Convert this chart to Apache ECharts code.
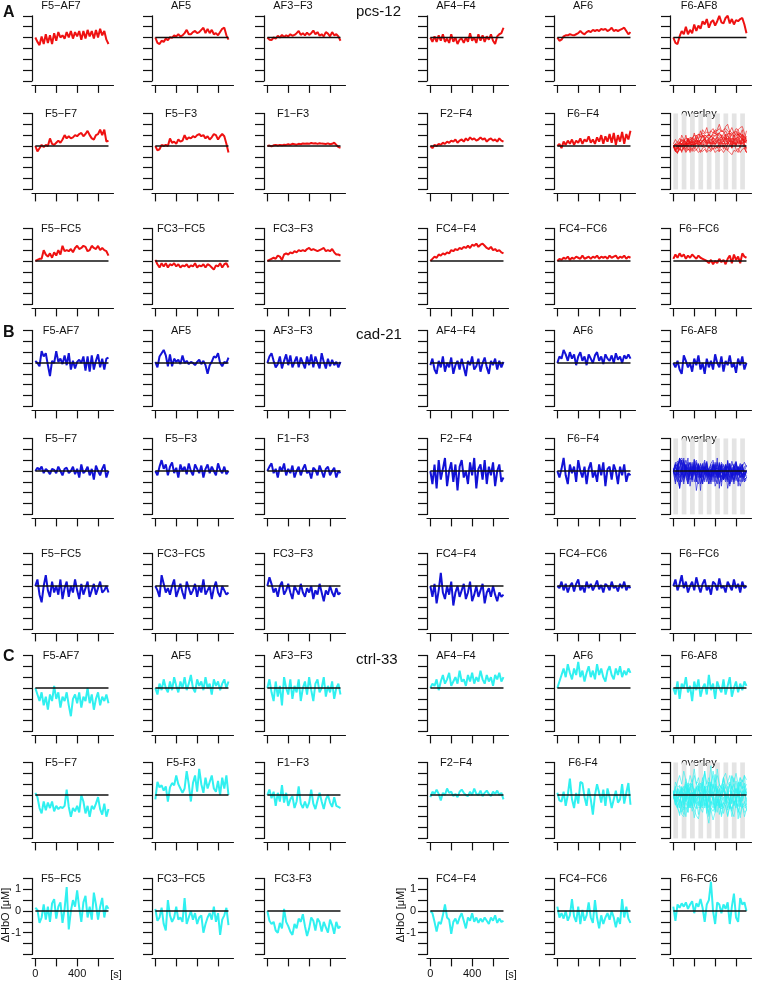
<!DOCTYPE html>
<html>
<head>
<meta charset="utf-8">
<script src="https://cdn.jsdelivr.net/npm/echarts@6/dist/echarts.min.js"></script>
<style>
	html, body { margin: 0; padding: 0; background: #fff; }
	#chart { width: 758px; height: 981px; }
</style>
</head>
<body>
<div id="chart"></div>
<script>
// Sample times [s] shared by every channel trace.
const times = [ 0, 20, 40, 60, 80, 100, 120, 140, 160, 180, 200, 220, 240, 260, 280, 300, 320, 340,
	360, 380, 400, 420, 440, 460, 480, 500, 520, 540, 560, 580, 600, 620, 640, 660, 680, 700 ];
const xTicks = [ 0, 200, 400, 600 ];
const xLabels = [ 0, 400 ];
const yLabels = [ -1, 0, 1 ];
// Stimulation blocks shaded in the overlay panels [s].
const blockStarts = [ 0, 80, 160, 240, 320, 400, 480, 560, 640 ];
const blockEnds = [ 45, 125, 205, 285, 365, 445, 525, 605, 685 ];

// Channel names, panel order row by row (the 12th panel is the overlay).
const pcsNames = [ 'F5\u2212AF7', 'AF5', 'AF3\u2212F3', 'AF4\u2212F4', 'AF6', 'F6-AF8',
	'F5\u2212F7', 'F5\u2212F3', 'F1\u2212F3', 'F2\u2212F4', 'F6\u2212F4', 'overlay',
	'F5\u2212FC5', 'FC3\u2212FC5', 'FC3\u2212F3', 'FC4\u2212F4', 'FC4\u2212FC6', 'F6\u2212FC6' ];
const cadNames = [ 'F5-AF7', 'AF5', 'AF3\u2212F3', 'AF4\u2212F4', 'AF6', 'F6-AF8',
	'F5\u2212F7', 'F5\u2212F3', 'F1\u2212F3', 'F2\u2212F4', 'F6\u2212F4', 'overlay',
	'F5\u2212FC5', 'FC3\u2212FC5', 'FC3\u2212F3', 'FC4\u2212F4', 'FC4\u2212FC6', 'F6\u2212FC6' ];
const ctrlNames = [ 'F5-AF7', 'AF5', 'AF3\u2212F3', 'AF4\u2212F4', 'AF6', 'F6-AF8',
	'F5\u2212F7', 'F5-F3', 'F1\u2212F3', 'F2\u2212F4', 'F6-F4', 'overlay',
	'F5\u2212FC5', 'FC3\u2212FC5', 'FC3-F3', 'FC4\u2212F4', 'FC4\u2212FC6', 'F6-FC6' ];

// A: pcs-12, delta HbO [uM]
const pcs_F5_AF7 = [ 0, -0.2, -0.35, 0.05, -0.3, 0.15, -0.25, 0.1, -0.3, 0.2, -0.15, 0.25, 0, 0.1, -0.05, 0.25, 0, 0.3, -0.05, 0.25, 0.05, 0.3, -0.1, 0.3, -0.05, 0.35, 0.05, 0.3, -0.05, 0.35, 0, 0.4, 0.1, 0.3, -0.1, -0.3 ];
const pcs_AF5 = [ 0, -0.25, -0.3, -0.15, -0.2, -0.05, -0.12, 0.02, -0.02, 0.1, 0.05, 0.15, 0.05, 0.1, 0.2, 0.35, 0.15, 0.15, 0.25, 0.3, 0.2, 0.25, 0.35, 0.45, 0.2, 0.4, 0.2, 0.35, 0.15, 0.2, 0.1, 0.25, 0.4, 0.45, 0.1, -0.1 ];
const pcs_AF3_F3 = [ 0, -0.1, -0.12, 0, -0.05, 0.08, 0, 0.12, 0.02, 0.1, 0.05, 0.15, 0.08, 0.12, 0.2, 0.3, 0.12, 0.2, 0.1, 0.22, 0.12, 0.2, 0.32, 0.15, 0.25, 0.08, 0.15, 0.05, 0.25, 0.18, 0.05, 0.25, 0.1, 0.15, 0.05, -0.15 ];
const pcs_AF4_F4 = [ 0, -0.2, 0.05, -0.2, 0.1, -0.15, 0.15, -0.2, -0.05, -0.25, 0.15, -0.2, 0, -0.3, -0.1, -0.05, -0.25, 0, -0.2, 0.2, -0.15, 0, -0.25, 0.15, -0.15, 0.1, -0.2, 0.05, -0.1, 0.15, -0.15, -0.3, 0.05, 0.15, 0.2, 0.45 ];
const pcs_AF6 = [ 0, -0.15, -0.1, 0.05, 0.1, 0.1, 0.15, 0.12, 0.1, 0.15, 0.2, 0.3, 0.2, 0.15, 0.25, 0.3, 0.25, 0.35, 0.3, 0.35, 0.3, 0.4, 0.35, 0.4, 0.3, 0.35, 0.45, 0.3, 0.35, 0.3, 0.35, 0.4, 0.45, 0.3, 0.15, 0.25 ];
const pcs_F6_AF8 = [ 0, -0.25, -0.3, 0.05, 0.3, 0.15, 0.5, 0.15, 0.35, 0.2, 0.6, 0.3, 0.55, 0.4, 0.75, 0.6, 0.85, 0.45, 0.7, 0.8, 0.55, 0.75, 1.0, 0.7, 0.65, 0.9, 1.0, 0.65, 0.85, 0.6, 0.8, 0.75, 0.85, 0.9, 0.6, 0.2 ];
const pcs_F5_F7 = [ 0, -0.25, -0.1, 0.05, -0.05, 0.05, 0, 0.35, 0.1, 0.05, 0.15, 0.25, 0.15, 0.3, 0.5, 0.35, 0.45, 0.35, 0.4, 0.5, 0.45, 0.55, 0.6, 0.45, 0.55, 0.7, 0.5, 0.35, 0.3, 0.5, 0.55, 0.75, 0.5, 0.75, 0.2, 0.25 ];
const pcs_F5_F3 = [ 0, -0.2, -0.15, 0.05, 0, 0.05, 0, 0.35, 0.15, 0.2, 0.1, 0.3, 0.2, 0.25, 0.5, 0.3, 0.4, 0.35, 0.45, 0.4, 0.5, 0.55, 0.45, 0.5, 0.35, 0.45, 0.3, 0.4, 0.55, 0.5, 0.3, 0.45, 0.55, 0.45, 0.1, -0.3 ];
const pcs_F1_F3 = [ 0, 0.02, -0.02, 0.03, 0.05, 0.02, 0.05, 0.03, 0.06, 0.05, 0.08, 0.05, 0.1, 0.08, 0.06, 0.1, 0.08, 0.12, 0.1, 0.12, 0.1, 0.14, 0.12, 0.13, 0.1, 0.13, 0.11, 0.1, 0.09, 0.12, 0.08, 0.1, 0.15, 0.05, -0.05, -0.08 ];
const pcs_F2_F4 = [ 0, -0.1, 0.05, 0, 0.1, 0.05, 0.15, 0.1, 0.2, 0.15, 0.25, 0.2, 0.3, 0.15, 0.25, 0.3, 0.2, 0.35, 0.25, 0.4, 0.3, 0.35, 0.25, 0.3, 0.4, 0.3, 0.35, 0.2, 0.3, 0.35, 0.25, 0.3, 0.2, 0.35, 0.25, 0.2 ];
const pcs_F6_F4 = [ 0, 0.1, -0.1, 0.2, 0.05, 0.25, 0.1, 0.3, 0.05, 0.25, 0.15, 0.35, 0.1, 0.3, 0.2, 0.45, 0.15, 0.3, 0.1, 0.4, 0.2, 0.5, 0.1, 0.45, 0.2, 0.55, 0.15, 0.6, 0.05, 0.5, 0.2, 0.65, 0.1, 0.55, 0.3, 0.7 ];
const pcs_F5_FC5 = [ 0, 0.05, 0.1, 0.1, 0.5, 0.3, 0.2, 0.35, 0.15, 0.4, 0.25, 0.5, 0.3, 0.7, 0.45, 0.5, 0.45, 0.55, 0.4, 0.6, 0.7, 0.55, 0.6, 0.7, 0.65, 0.45, 0.5, 0.7, 0.6, 0.55, 0.7, 0.5, 0.6, 0.5, 0.45, 0.25 ];
const pcs_FC3_FC5 = [ 0.05, -0.15, -0.3, -0.1, -0.25, -0.1, -0.3, -0.15, -0.2, -0.1, -0.25, -0.15, -0.3, -0.2, -0.25, -0.15, -0.3, -0.2, -0.25, -0.1, -0.3, -0.2, -0.25, -0.15, -0.3, -0.15, -0.2, -0.3, -0.4, -0.2, -0.25, -0.1, -0.3, -0.15, -0.1, -0.3 ];
const pcs_FC3_F3 = [ 0, 0.05, 0.1, 0.15, 0.1, 0.25, 0.2, 0.05, 0.3, 0.35, 0.3, 0.4, 0.35, 0.45, 0.4, 0.5, 0.45, 0.5, 0.45, 0.55, 0.6, 0.5, 0.55, 0.5, 0.45, 0.5, 0.55, 0.6, 0.45, 0.5, 0.45, 0.55, 0.4, 0.3, 0.3, 0.25 ];
const pcs_FC4_F4 = [ 0, 0.1, 0.2, 0.15, 0.3, 0.25, 0.35, 0.3, 0.4, 0.35, 0.5, 0.45, 0.55, 0.5, 0.6, 0.55, 0.65, 0.6, 0.7, 0.6, 0.75, 0.7, 0.8, 0.65, 0.75, 0.8, 0.7, 0.6, 0.55, 0.65, 0.5, 0.55, 0.45, 0.5, 0.4, 0.35 ];
const pcs_FC4_FC6 = [ 0, 0.1, 0.05, 0.15, 0.1, 0.2, 0.05, 0.15, 0.1, 0.2, 0.15, 0.1, 0.25, 0.1, 0.15, 0.2, 0.1, 0.2, 0.15, 0.25, 0.1, 0.2, 0.15, 0.2, 0.1, 0.25, 0.15, 0.2, 0.25, 0.1, 0.2, 0.15, 0.25, 0.1, 0.2, 0.15 ];
const pcs_F6_FC6 = [ 0.1, 0.3, 0.15, 0.35, 0.2, 0.3, 0.1, 0.25, 0.15, 0.3, 0.2, 0.1, 0.25, 0.15, 0.1, 0.05, 0, -0.1, 0.05, -0.15, 0, -0.1, 0.1, -0.05, 0.05, -0.15, 0.1, 0.25, -0.1, 0.3, 0.05, 0.2, -0.1, 0.35, 0.2, 0.15 ];

// B: cad-21
const cad_F5_AF7 = [ 0.1, 0, -0.15, 0.55, 0.3, 0.45, -0.1, -0.6, 0.1, 0, 0.55, 0.05, 0.2, -0.05, 0.35, -0.1, 0.45, -0.3, 0.1, -0.25, 0.05, 0.15, 0, 0.3, -0.35, 0.3, -0.4, 0.35, -0.3, 0.1, 0.4, -0.2, 0.2, -0.3, 0.2, 0.25 ];
const cad_AF5 = [ 0.05, -0.2, 0.3, 0.45, 0.6, 0.35, -0.15, 0.4, -0.15, 0.2, 0.05, 0.15, -0.05, 0.35, 0, 0.1, -0.05, 0.05, 0, -0.1, 0.05, 0.15, -0.05, 0.1, -0.1, -0.5, -0.1, 0.05, 0.3, 0.25, 0.45, 0, -0.15, 0.05, 0, 0.25 ];
const cad_AF3_F3 = [ 0, 0.3, 0.45, 0.1, -0.2, -0.05, 0.3, -0.25, 0.1, 0.4, -0.1, 0.35, -0.2, 0.05, 0.3, -0.2, 0.25, 0, -0.25, 0.3, -0.1, 0.4, -0.2, 0.3, 0, -0.25, 0.45, 0.05, -0.25, 0.2, -0.15, 0.15, -0.1, 0.05, -0.2, 0.05 ];
const cad_AF4_F4 = [ -0.1, 0.2, -0.3, -0.5, 0.1, -0.2, 0.3, -0.4, 0, -0.2, 0.25, -0.5, -0.1, 0.1, -0.3, 0.2, -0.2, -0.6, 0.1, -0.1, 0.3, -0.3, -0.15, 0.2, -0.4, 0, 0.25, -0.2, -0.5, 0.1, -0.1, 0.2, -0.3, 0.1, -0.2, 0.05 ];
const cad_AF6 = [ 0, 0.3, 0.2, 0.6, 0.4, 0.1, 0.5, 0.2, 0.4, -0.1, 0.3, 0.5, 0.1, 0.3, -0.1, 0.4, 0.2, 0, 0.35, 0.5, 0.1, 0.3, -0.05, 0.4, 0.2, 0.1, 0.35, 0, 0.45, 0.15, 0.3, 0, 0.35, 0.2, 0.4, 0.2 ];
const cad_F6_AF8 = [ 0, -0.2, 0.1, -0.3, -0.5, 0.35, 0.1, -0.2, 0, -0.4, 0.2, -0.1, 0.35, -0.3, 0, -0.5, 0.2, -0.2, 0.1, -0.3, 0.4, 0, -0.2, 0.3, -0.4, 0.1, -0.1, 0.35, -0.2, 0, -0.45, 0.2, -0.1, 0.3, -0.3, 0 ];
const cad_F5_F7 = [ 0, 0.15, 0.05, 0.2, -0.1, 0.1, 0, -0.15, 0.1, 0.05, -0.1, 0.2, 0, -0.2, 0.1, 0.15, -0.1, 0, 0.2, -0.15, 0.1, -0.3, 0.3, -0.1, 0, 0.2, -0.2, 0.1, -0.4, 0.25, 0, -0.2, 0.1, 0.3, -0.3, 0 ];
const cad_F5_F3 = [ 0, -0.2, 0.2, 0.5, 0.1, 0.3, -0.2, 0.2, 0.4, -0.1, 0.15, -0.3, 0.3, 0, 0.2, -0.15, 0.35, 0, -0.2, 0.3, 0.1, -0.1, 0.25, -0.3, 0.1, 0.3, -0.1, 0.2, 0, -0.2, 0.35, 0.05, -0.1, 0.2, -0.15, 0 ];
const cad_F1_F3 = [ 0, 0.2, 0.35, -0.1, 0.1, -0.3, 0.2, 0, 0.35, -0.2, 0.1, -0.1, 0.25, -0.3, 0, 0.2, -0.2, 0.1, 0.3, -0.1, 0, -0.35, 0.15, 0.05, -0.2, 0.25, 0, -0.3, 0.1, 0.2, -0.2, 0, 0.15, -0.3, 0, -0.1 ];
const cad_F2_F4 = [ 0, -0.6, 0.3, -0.8, 0.5, -0.4, 0.1, 0.6, -0.7, 0, 0.4, -0.5, 0.3, -0.9, 0.2, 0.5, -0.3, 0, -0.6, 0.4, -0.2, 0.6, -0.8, 0.1, 0.3, -0.4, 0.5, -0.6, 0.2, -0.2, 0.4, -0.7, 0, 0.3, -0.5, -0.3 ];
const cad_F6_F4 = [ 0, -0.3, 0.1, 0.6, -0.2, -0.6, 0.3, -0.1, 0.2, -0.5, 0.5, 0, -0.3, 0.2, -0.6, 0.1, 0.4, -0.3, 0, -0.5, 0.3, -0.2, 0.4, -0.7, 0.1, 0.2, -0.4, 0.3, 0, -0.6, 0.2, -0.2, 0.3, -0.5, -0.1, -0.2 ];
const cad_F5_FC5 = [ 0, 0.3, -0.4, -0.75, 0, 0.5, -0.2, -0.5, 0.2, -0.3, 0, -0.4, 0.3, -0.6, -0.1, 0.2, -0.5, 0, -0.3, 0.3, -0.2, -0.6, 0.1, -0.4, -0.1, 0.2, -0.5, -0.2, 0.1, -0.4, -0.1, 0.2, -0.3, -0.2, 0, -0.3 ];
const cad_FC3_FC5 = [ 0, -0.2, -0.5, 0.5, 0.1, -0.3, -0.1, -0.4, 0, 0.3, -0.5, -0.2, 0.1, -0.3, -0.6, 0.2, -0.1, -0.4, -0.2, 0.1, -0.5, 0, -0.3, 0.3, -0.4, -0.2, 0, -0.6, -0.1, 0.2, -0.3, -0.5, 0, -0.2, -0.4, -0.3 ];
const cad_FC3_F3 = [ 0, 0.4, 0.1, -0.3, -0.1, -0.5, 0, 0.2, -0.4, -0.2, 0.1, -0.3, -0.6, 0, -0.2, -0.4, 0.1, -0.3, -0.5, -0.1, -0.3, 0, -0.6, -0.2, -0.4, 0.1, -0.3, -0.7, -0.2, -0.4, 0, -0.3, -0.5, -0.1, -0.4, -0.3 ];
const cad_FC4_F4 = [ 0, -0.5, 0.1, -0.8, -0.2, 0.6, -0.3, -0.6, 0, -0.4, 0.2, -0.9, -0.3, 0, -0.5, -0.2, 0.1, -0.6, -0.3, 0.2, -0.7, -0.4, 0, -0.5, -0.2, 0.1, -0.8, -0.3, -0.1, -0.5, 0, -0.4, -0.7, -0.3, -0.5, -0.4 ];
const cad_FC4_FC6 = [ 0, -0.1, 0.2, -0.2, 0.1, -0.3, 0, 0.15, -0.25, 0.1, 0.3, -0.2, 0, -0.3, 0.2, -0.1, 0.1, -0.2, 0, 0.25, -0.15, 0.05, -0.3, 0.1, 0, -0.2, 0.2, -0.1, 0, -0.25, 0.1, -0.1, 0.2, -0.2, 0, -0.1 ];
const cad_F6_FC6 = [ 0, 0.3, -0.2, 0.1, 0.5, -0.1, 0.2, -0.3, 0, 0.2, -0.2, 0.4, 0, -0.3, 0.1, 0.3, -0.2, 0, -0.4, 0.2, 0.1, -0.2, 0.35, -0.1, 0, -0.3, 0.2, 0, -0.2, 0.3, -0.1, 0.1, -0.3, 0.2, -0.1, 0 ];

// C: ctrl-33
const ctrl_F5_AF7 = [ 0, -0.3, -0.6, -0.2, -0.8, -0.4, -1.0, -0.3, -0.6, 0.1, -0.5, -0.2, -0.9, -0.4, -0.6, -0.2, -0.8, -1.3, -0.5, -0.3, -0.7, -0.2, -0.9, -0.4, -0.6, 0, -0.7, -0.3, -1.0, -0.5, -0.2, -0.8, -0.4, -0.6, -0.3, -0.7 ];
const ctrl_AF5 = [ 0, -0.3, 0.2, -0.1, 0.4, 0, -0.2, 0.3, -0.1, 0.5, 0.1, -0.2, 0.3, 0, 0.5, -0.1, 0.2, 0.6, 0, -0.2, 0.4, 0.1, 0.3, -0.1, 0.5, 0, 0.2, -0.3, 0.4, 0.1, 0.3, -0.1, 0.2, 0.4, 0, 0.3 ];
const ctrl_AF3_F3 = [ 0, 0.4, -0.2, -0.6, 0.3, -0.4, 0.1, -0.8, 0.5, 0, -0.3, 0.4, -0.5, 0.1, -0.2, 0.4, -0.6, 0, 0.3, -0.3, 0.5, -0.1, -0.6, 0.2, 0.4, -0.2, 0, 0.5, -0.4, 0.1, -0.2, 0.3, -0.5, 0, 0.2, -0.3 ];
const ctrl_AF4_F4 = [ 0, 0.2, 0.1, 0.4, -0.1, 0.3, 0.6, 0.2, 0.4, 0.7, 0.1, 0.3, 0.5, 0.2, 0.8, 0.3, 0.4, 0.1, 0.6, 0.3, 0.7, 0.2, 0.5, 0.3, 0.8, 0.4, 0.2, 0.6, 0.3, 0.5, 0.1, 0.6, 0.4, 0.7, 0.3, 0.5 ];
const ctrl_AF6 = [ 0, 0.3, 0.6, 0.9, 0.5, 1.1, 0.7, 0.4, 0.9, 0.6, 1.2, 0.5, 0.8, 0.3, 0.7, 1.0, 0.5, 0.8, 0.4, 1.1, 0.6, 0.9, 0.5, 0.3, 0.8, 1.0, 0.6, 0.4, 0.9, 0.6, 1.0, 0.5, 0.8, 0.6, 0.9, 0.7 ];
const ctrl_F6_AF8 = [ 0, -0.3, 0.3, -0.5, 0.2, 0, 0.5, -0.2, 0.1, -0.6, 0.3, -0.1, 0.4, -0.4, 0, 0.2, -0.3, 0.6, -0.1, 0.2, -0.5, 0.3, 0, -0.2, 0.4, -0.3, 0.1, 0.5, -0.4, 0, 0.3, -0.2, 0.2, -0.1, 0.3, 0.1 ];
const ctrl_F5_F7 = [ 0.1, -0.1, -0.6, -0.85, -0.3, -0.7, -0.35, -0.6, -0.3, -0.75, -0.5, -0.65, -0.55, -0.6, -0.5, 0.25, -0.55, -1.0, -0.6, -0.75, -0.5, -0.8, 0, -0.3, -0.85, -0.5, -1.0, -0.5, -0.65, -0.4, -0.1, -0.65, -0.9, -0.4, -1.0, -0.65 ];
const ctrl_F5_F3 = [ -0.2, 0.6, 0.35, 0.45, 0.2, 0.4, -0.3, 0.35, 0.55, 0.45, 0.9, 0.5, 0.3, 0.1, 0.3, 1.1, 0.5, -0.3, 0.55, 0.9, 0.15, 1.2, 0.5, 0.1, 0.8, 0.3, 0.6, 0.9, 0.3, 0.15, 0.65, 0, 0.8, 0.3, 0.9, 0 ];
const ctrl_F1_F3 = [ 0, 0.25, -0.15, 0.15, -0.5, 0.1, -0.3, 0.45, -0.35, 0.1, -0.5, -0.2, -0.05, -0.6, -0.3, 0.4, -0.4, -0.6, -0.3, -0.6, -0.35, 0.25, -0.4, -0.65, -0.25, 0.1, -0.3, -0.65, -0.2, 0, -0.35, -0.55, -0.1, -0.5, -0.55, -0.6 ];
const ctrl_F2_F4 = [ -0.1, 0.15, 0.05, 0.25, 0.05, -0.25, 0.1, 0, 0.3, 0.1, 0.15, -0.05, 0.05, -0.1, 0.15, 0.25, 0.1, 0, -0.05, 0.15, 0, 0.3, 0.05, 0, 0.2, -0.05, 0.1, 0.2, 0.05, -0.05, 0.15, 0.05, 0.2, 0, 0.1, -0.2 ];
const ctrl_F6_F4 = [ 0.1, -0.25, -0.3, 0.15, -0.5, 0, 0.75, -0.2, -0.6, 0.1, -0.4, 0.6, 0.55, -0.1, -0.5, 0.3, -0.2, -0.9, 0, 0.5, 0.1, -0.35, 0.25, -0.5, 0.3, -0.1, -0.6, -0.2, 0.2, -0.35, -0.2, 0.5, -0.4, 0.1, 0.55, -0.45 ];
const ctrl_F5_FC5 = [ 0.15, 0.05, -0.55, -0.3, 0.3, -0.4, 0.2, -0.5, 0.35, 0.55, -0.35, 0.2, 0.4, -0.55, 0.1, 1.1, -0.85, 0, 0.5, 0.2, 0.95, 0.15, -0.5, 0.4, 0.7, -0.3, 0.2, -0.4, 0.85, 0.3, -0.4, 0.2, 0.6, -0.3, 0.25, 0.1 ];
const ctrl_FC3_FC5 = [ 0.1, -0.45, -0.3, 0.15, -0.6, -0.9, 0.5, -0.2, -0.5, -0.3, 0.2, -0.4, -0.3, -0.5, 0.6, -0.6, -0.3, 0, -0.4, -0.1, -0.6, -0.3, -0.2, -1.0, -0.6, -0.3, -0.1, -0.4, 0.2, -0.5, -0.1, -1.1, -0.4, -0.2, 0.15, -0.65 ];
const ctrl_FC3_F3 = [ 0, -0.45, -0.6, -0.5, -0.9, -1.0, -0.55, -0.8, 0.1, -0.5, -0.7, -0.95, -1.1, -0.6, -0.8, -0.35, -0.5, -0.15, -0.7, -1.15, -0.8, -0.3, -0.45, -0.9, -0.35, -0.5, -0.95, -0.5, -0.75, -1.0, -0.4, -0.65, -1.05, -0.5, -0.8, -0.7 ];
const ctrl_FC4_F4 = [ 0, -0.1, -0.5, -0.95, -0.5, -0.6, -0.2, 0.3, -0.3, -0.4, -1.05, -0.5, -0.35, -0.6, -0.3, -0.1, -0.45, -0.8, -0.3, -0.45, -0.1, -0.5, -0.3, -0.55, -0.35, -0.5, -0.3, -0.45, -0.6, -0.3, -0.45, -0.2, -0.55, -0.35, -0.5, -0.45 ];
const ctrl_FC4_FC6 = [ 0.2, -0.3, -0.1, -0.35, 0, -0.45, -0.2, 0.55, -0.25, -0.5, 0.2, -0.6, 0.05, -0.45, -0.2, 0.4, -0.3, -0.55, 0.5, -0.3, -0.8, -0.2, -0.6, -0.3, -0.1, -0.4, 0, -0.3, -0.75, -0.3, -0.6, 0.55, -0.3, 0.2, -0.35, -0.55 ];
const ctrl_F6_FC6 = [ 0.2, -0.45, 0.3, 0.15, 0.35, 0.2, 0.4, 0.1, 0.3, 0.45, -0.1, 0.35, 0.2, 0.55, 0.15, -0.5, 0.3, 0.5, 1.35, 0, -0.6, 0.4, 0.3, -0.1, 0.3, 0.1, 0.4, -0.6, 0.2, 0.8, -0.3, -0.5, 0.6, 0.3, 0.4, 0 ];

const pcsTraces = [ pcs_F5_AF7, pcs_AF5, pcs_AF3_F3, pcs_AF4_F4, pcs_AF6, pcs_F6_AF8,
	pcs_F5_F7, pcs_F5_F3, pcs_F1_F3, pcs_F2_F4, pcs_F6_F4,
	pcs_F5_FC5, pcs_FC3_FC5, pcs_FC3_F3, pcs_FC4_F4, pcs_FC4_FC6, pcs_F6_FC6 ];
const cadTraces = [ cad_F5_AF7, cad_AF5, cad_AF3_F3, cad_AF4_F4, cad_AF6, cad_F6_AF8,
	cad_F5_F7, cad_F5_F3, cad_F1_F3, cad_F2_F4, cad_F6_F4,
	cad_F5_FC5, cad_FC3_FC5, cad_FC3_F3, cad_FC4_F4, cad_FC4_FC6, cad_F6_FC6 ];
const ctrlTraces = [ ctrl_F5_AF7, ctrl_AF5, ctrl_AF3_F3, ctrl_AF4_F4, ctrl_AF6, ctrl_F6_AF8,
	ctrl_F5_F7, ctrl_F5_F3, ctrl_F1_F3, ctrl_F2_F4, ctrl_F6_F4,
	ctrl_F5_FC5, ctrl_FC3_FC5, ctrl_FC3_F3, ctrl_FC4_F4, ctrl_FC4_FC6, ctrl_F6_FC6 ];

// Layout (px)
const COL_X = [ 32, 152, 264, 427, 554, 670 ];
const ZERO_Y = [ [ 37.5, 146, 261 ], [ 363, 471, 586 ], [ 688, 795, 911 ] ];
const PX_PER_UNIT = 21.7;
const PLOT_W = 81.5;
const Y_MIN = -2;
const X_MIN = -32;
const X_MAX = 748;
const FONT = '"Liberation Sans", Arial, sans-serif';
const INK = '#111';

const sections = [
	{ letter: 'A', group: 'pcs-12', color: '#ee1111', names: pcsNames, traces: pcsTraces, letterY: 13, groupY: 12 },
	{ letter: 'B', group: 'cad-21', color: '#1212d6', names: cadNames, traces: cadTraces, letterY: 333, groupY: 335 },
	{ letter: 'C', group: 'ctrl-33', color: '#30f0f0', names: ctrlNames, traces: ctrlTraces, letterY: 657, groupY: 660 }
];

const toPoints = ( values ) => values.map( ( v, k ) => [ times[ k ], v ] );

const grid = [];
const xAxis = [];
const yAxis = [];
const series = [];
const graphic = [];

const text = ( x, y, str, font, align, rotation ) => graphic.push( {
	type: 'text',
	x,
	y,
	rotation: rotation || 0,
	silent: true,
	style: {
		text: str,
		fill: INK,
		font: font + ' ' + FONT,
		align: align || 'center',
		verticalAlign: 'middle'
	}
} );

sections.forEach( ( sec, s ) => {
	text( 3, sec.letterY, sec.letter, 'bold 16px', 'left' );
	text( 356, sec.groupY, sec.group, '15px', 'left' );

	let traceIdx = 0;
	for ( let r = 0; r < 3; r++ ) {
		for ( let c = 0; c < 6; c++ ) {
			const g = grid.length;
			const yMax = ( s === 0 && r === 0 ) ? 1 : 1.5;
			const zero = ZERO_Y[ s ][ r ];
			const labelled = s === 2 && r === 2 && ( c === 0 || c === 3 );
			const isOverlay = r === 1 && c === 5;

			grid.push( {
				left: COL_X[ c ],
				top: zero - yMax * PX_PER_UNIT,
				width: PLOT_W,
				height: ( yMax - Y_MIN ) * PX_PER_UNIT,
				outerBoundsMode: 'none'
			} );

			xAxis.push( {
				gridIndex: g,
				type: 'value',
				min: X_MIN,
				max: X_MAX,
				offset: 4,
				axisLine: { onZero: false, lineStyle: { color: INK, width: 1.2 } },
				axisTick: { length: 8, customValues: xTicks, lineStyle: { color: INK, width: 1.2 } },
				axisLabel: labelled ?
					{ customValues: xLabels, margin: 10, fontSize: 11, fontFamily: FONT, color: INK } :
					{ show: false },
				splitLine: { show: false }
			} );

			yAxis.push( {
				gridIndex: g,
				type: 'value',
				min: Y_MIN,
				max: yMax,
				interval: 0.5,
				axisLine: { show: true, onZero: false, lineStyle: { color: INK, width: 1.2 } },
				axisTick: { show: true, length: 9, lineStyle: { color: INK, width: 1.2 } },
				axisLabel: labelled ?
					{ customValues: yLabels, margin: 11, fontSize: 11, fontFamily: FONT, color: INK } :
					{ show: false },
				splitLine: { show: false }
			} );

			text( COL_X[ c ] + 29, zero - 32, sec.names[ r * 6 + c ], '11px' );
			if ( labelled ) {
				text( COL_X[ c ] + 84, 975, '[s]', '11px' );
				// y-axis title, drawn beside the tick labels
				text( COL_X[ c ] - 26, zero + 4, '\u0394HbO [\u03bcM]', '11px', 'center', Math.PI / 2 );
			}

			const zeroLine = {
				type: 'line',
				xAxisIndex: g,
				yAxisIndex: g,
				data: [ [ times[ 0 ], 0 ], [ times[ times.length - 1 ], 0 ] ],
				showSymbol: false,
				silent: true,
				z: 3,
				lineStyle: { color: INK, width: 1.4 }
			};

			if ( isOverlay ) {
				series.push( {
					type: 'line',
					xAxisIndex: g,
					yAxisIndex: g,
					data: [],
					silent: true,
					z: 1,
					markArea: {
						silent: true,
						itemStyle: { color: '#e4e4e4' },
						data: blockStarts.map( ( b, k ) => [ { xAxis: b }, { xAxis: blockEnds[ k ] } ] )
					}
				} );
				sec.traces.forEach( ( tr ) => series.push( {
					type: 'line',
					xAxisIndex: g,
					yAxisIndex: g,
					data: toPoints( tr ),
					showSymbol: false,
					silent: true,
					z: 2,
					lineStyle: { color: sec.color, width: 0.7, opacity: 0.9 }
				} ) );
				series.push( zeroLine );
			} else {
				series.push( {
					type: 'line',
					xAxisIndex: g,
					yAxisIndex: g,
					data: toPoints( sec.traces[ traceIdx ] ),
					showSymbol: false,
					silent: true,
					z: 2,
					lineStyle: { color: sec.color, width: 2 }
				} );
				traceIdx++;
				// the first pcs panel shows no baseline
				if ( !( s === 0 && r === 0 && c === 0 ) ) {
					series.push( zeroLine );
				}
			}
		}
	}
} );

const chart = echarts.init( document.getElementById( 'chart' ), null, { renderer: 'canvas' } );
chart.setOption( {
	animation: false,
	backgroundColor: '#fff',
	grid,
	xAxis,
	yAxis,
	series,
	graphic
} );
</script>
</body>
</html>
